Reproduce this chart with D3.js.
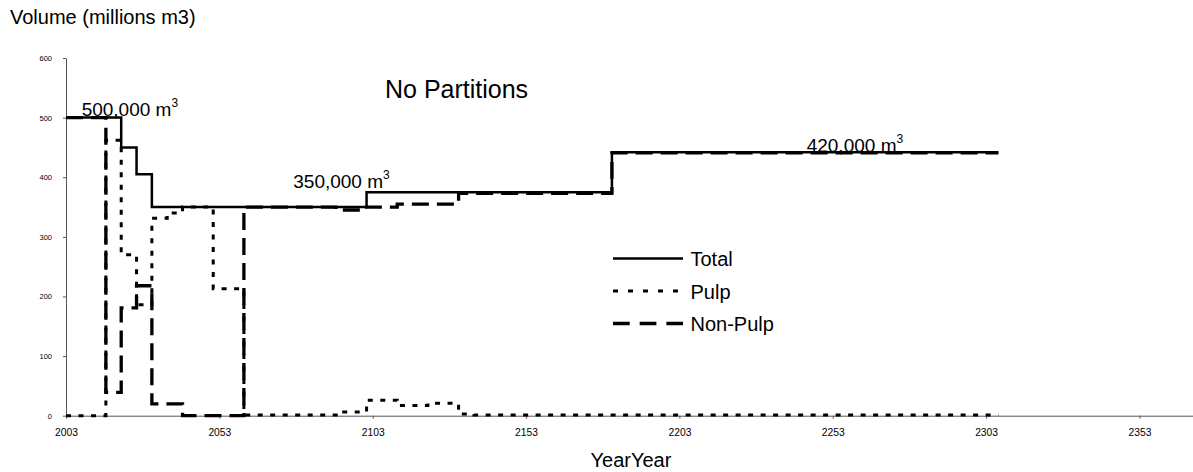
<!DOCTYPE html>
<html>
<head>
<meta charset="utf-8">
<script src="https://cdn.jsdelivr.net/npm/d3@7"></script>
<style>
  html, body { margin: 0; padding: 0; background: #fff; }
  svg { display: block; font-family: "Liberation Sans", Arial, sans-serif; }
</style>
</head>
<body>
<svg id="chart" width="1193" height="472"></svg>
<script>
// ---- data ----
const totalYears   = [2003, 2021, 2026, 2031, 2101, 2181, 2307];
const totalValues  = [500, 450, 405, 350, 375, 442, 442];

const pulpYears    = [2003, 2016, 2021, 2026, 2031, 2036, 2041, 2051, 2061, 2093, 2101, 2111, 2121, 2131, 2136, 2307];
const pulpValues   = [0, 462, 270, 186, 331, 340, 350, 213, 1, 6, 26, 17, 21, 3, 1, 1];

const nonPulpYears  = [2003, 2016, 2021, 2026, 2031, 2041, 2061, 2091, 2101, 2111, 2131, 2181, 2307];
const nonPulpValues = [500, 39, 181, 218, 20, 0, 350, 345, 350, 355, 373, 441, 441];

const xTickValues = [2003, 2053, 2103, 2153, 2203, 2253, 2303, 2353];
const yTickValues = [0, 100, 200, 300, 400, 500, 600];

const seriesNames = ["Total", "Pulp", "Non-Pulp"];

// annotation text baselines, in chart units
const annotations = [
  { year: 2008.1, value: 503, text: "500,000 m" },
  { year: 2077.1, value: 382, text: "350,000 m" },
  { year: 2244.5, value: 443, text: "420,000 m" }
];

// ---- layout ----
const svg = d3.select("#chart");
const x = d3.scaleLinear().domain([2003, 2403]).range([66, 66 + 400 * 3.067]);
const y = d3.scaleLinear().domain([0, 600]).range([415.7, 58]);
const font = "'Liberation Sans', Arial, sans-serif";

// axes
const xAxis = svg.append("g").attr("transform", `translate(0,${y(0)})`)
  .call(d3.axisBottom(x).tickValues(xTickValues).tickFormat(d3.format("d")).tickSize(3).tickSizeOuter(0).tickPadding(10));
xAxis.selectAll("text").attr("font-size", "10.3px").attr("font-family", font).attr("fill", "#000");
xAxis.selectAll("line, path").attr("stroke", "#555");

const yAxis = svg.append("g").attr("transform", `translate(${x(2003)},0)`)
  .call(d3.axisLeft(y).tickValues(yTickValues).tickSize(3).tickSizeOuter(0).tickPadding(11));
yAxis.selectAll("text").attr("font-size", "7.5px").attr("font-family", font).attr("fill", "#000");
yAxis.selectAll("line, path").attr("stroke", "#555");

// series
const line = d3.line().x(d => x(d[0])).y(d => y(d[1])).curve(d3.curveStepAfter);
const zip = (a, b) => a.map((v, i) => [v, b[i]]);

svg.append("path").datum(zip(nonPulpYears, nonPulpValues))
  .attr("d", line).attr("fill", "none").attr("stroke", "#000")
  .attr("stroke-width", 3.3).attr("stroke-dasharray", "17,8");

svg.append("path").datum(zip(pulpYears, pulpValues))
  .attr("d", line).attr("fill", "none").attr("stroke", "#000")
  .attr("stroke-width", 3).attr("stroke-dasharray", "5,7.5");

svg.append("path").datum(zip(totalYears, totalValues))
  .attr("d", line).attr("fill", "none").attr("stroke", "#000")
  .attr("stroke-width", 2.5);

// annotations
annotations.forEach(a => {
  const t = svg.append("text").attr("x", x(a.year)).attr("y", y(a.value))
    .attr("font-size", "19px").attr("font-family", font).attr("fill", "#000").text(a.text);
  t.append("tspan").attr("dy", -9).attr("font-size", "12px").text("3");
});

// title texts
svg.append("text").attr("x", 10).attr("y", 24).attr("font-size", "20px").attr("font-family", font)
  .text("Volume (millions m3)");
svg.append("text").attr("x", 385).attr("y", 98).attr("font-size", "25px").attr("font-family", font)
  .text("No Partitions");
svg.append("text").attr("x", 631).attr("y", 467).attr("text-anchor", "middle").attr("font-size", "20px")
  .attr("font-family", font).text("YearYear");

// legend
const legendStyles = [
  { w: 2.5, dash: null },
  { w: 3, dash: "5,10" },
  { w: 3.3, dash: "16.7,10" }
];
const legend = svg.append("g");
seriesNames.forEach((name, i) => {
  const ly = 258.5 + i * 32.5;
  const l = legend.append("line").attr("x1", 613).attr("x2", 683).attr("y1", ly).attr("y2", ly)
    .attr("stroke", "#000").attr("stroke-width", legendStyles[i].w);
  if (legendStyles[i].dash) l.attr("stroke-dasharray", legendStyles[i].dash);
  legend.append("text").attr("x", 690.5).attr("y", ly + 7.5).attr("font-size", "20px")
    .attr("font-family", font).text(name);
});
</script>
</body>
</html>
